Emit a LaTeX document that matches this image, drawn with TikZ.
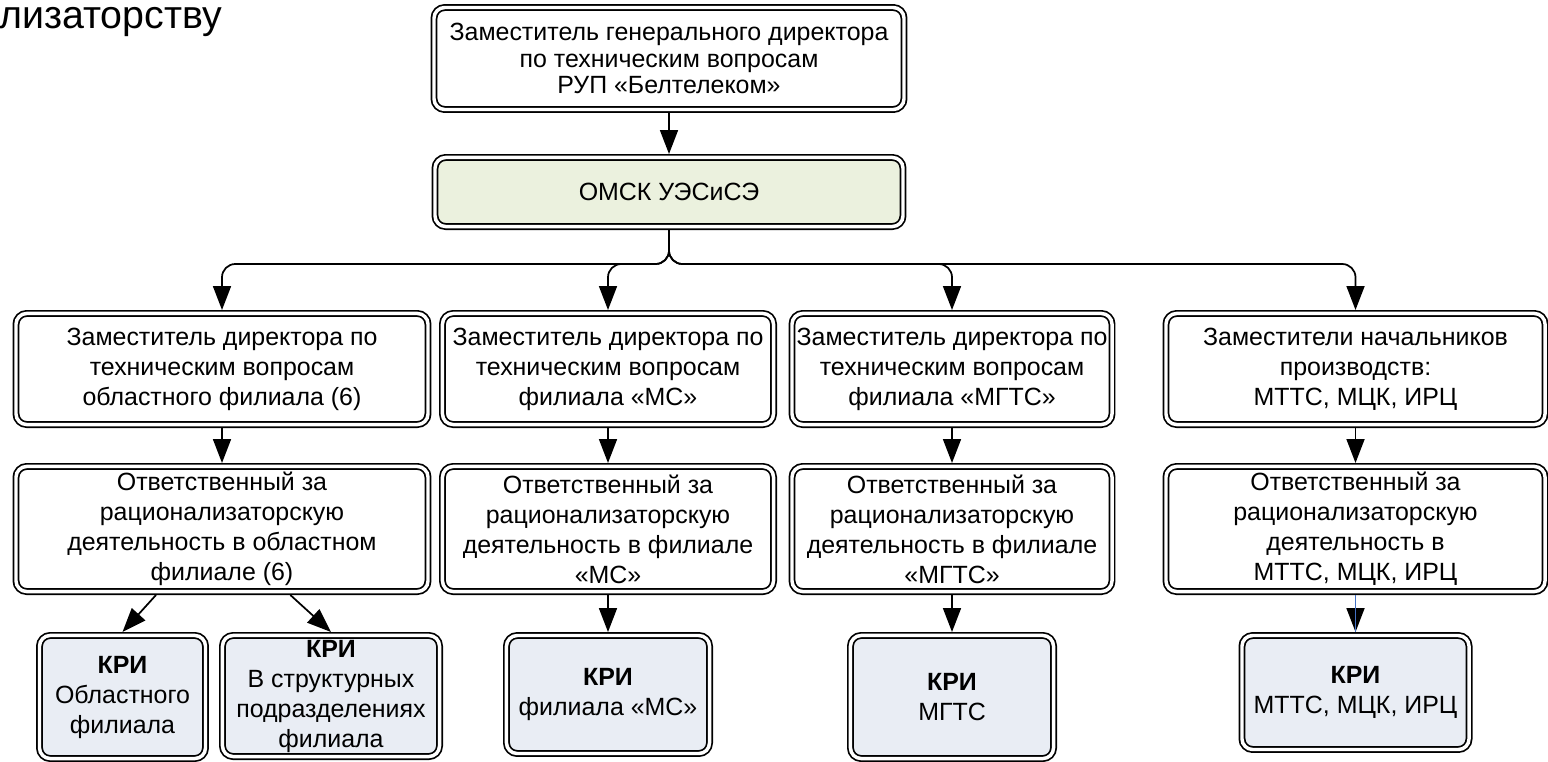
\documentclass[tikz,border=0pt]{standalone}
\usepackage{fontspec}
\setmainfont{Liberation Sans}
\usetikzlibrary{arrows.meta, positioning}

\definecolor{omskfill}{HTML}{EBF1DE}
\definecolor{krifill}{HTML}{E9EDF4}
\definecolor{lineblue}{HTML}{4472C4}

\begin{document}
\begin{tikzpicture}[x=0.75pt, y=-0.75pt,
    box/.style={rectangle, draw, double, double distance=2.6pt, line width=1.3pt,
      rounded corners=8pt, fill=white, align=center, inner sep=2pt, outer sep=2.6pt,
      font=\fontsize{18.7}{22.5}\selectfont},
    omskbox/.style={box, fill=omskfill},
    kribox/.style={box, fill=krifill},
    arr/.style={-{Triangle[length=18pt, width=13.5pt]}, line width=1.3pt, rounded corners=10pt}]
  \useasboundingbox (0,0) rectangle (1548,761);

  % Title (cut off at the left)
  \node (title) [anchor=base west, inner sep=0pt, font=\fontsize{29.5}{33}\selectfont] at (-1,28) {лизаторству};

  % Create the nodes
  \node (gendir) [box, minimum width=352.5pt, minimum height=76.5pt, font=\fontsize{18.7}{20}\selectfont] at (669,58.5) {Заместитель генерального директора\\по техническим вопросам\\РУП «Белтелеком»};
  \node (omsk) [omskbox, minimum width=351pt, minimum height=51.8pt] at (669,192) {ОМСК УЭСиСЭ};

  \node (zamA) [box, minimum width=309pt, minimum height=83.3pt] at (222,369) {Заместитель директора по\\техническим вопросам\\областного филиала (6)};
  \node (zamB) [box, minimum width=248.3pt, minimum height=83.3pt] at (608,369) {Заместитель директора по\\техническим вопросам\\филиала «МС»};
  \node (zamC) [box, minimum width=240pt, minimum height=83.3pt] at (952,369) {Заместитель директора по\\техническим вопросам\\филиала «МГТС»};
  \node (zamD) [box, minimum width=284.3pt, minimum height=83.3pt] at (1355.5,369) {Заместители начальников\\производств:\\МТТС, МЦК, ИРЦ};

  \node (respA) [box, minimum width=309pt, minimum height=93.8pt] at (222,529) {Ответственный за\\рационализаторскую\\деятельность в областном\\филиале (6)};
  \node (respB) [box, minimum width=248.3pt, minimum height=93.8pt] at (608,529) {Ответственный за\\рационализаторскую\\деятельность в филиале\\«МС»};
  \node (respC) [box, minimum width=240pt, minimum height=93.8pt] at (952,529) {Ответственный за\\рационализаторскую\\деятельность в филиале\\«МГТС»};
  \node (respD) [box, minimum width=284.3pt, minimum height=93.8pt] at (1355.5,529) {Ответственный за\\рационализаторскую\\деятельность в\\МТТС, МЦК, ИРЦ};

  \node (kriA) [kribox, minimum width=124.5pt, minimum height=92.3pt] at (122.5,697) {\textbf{КРИ}\\Областного\\филиала};
  \node (kriB) [kribox, minimum width=162.8pt, minimum height=90.8pt] at (331,696) {\textbf{КРИ}\\В структурных\\подразделениях\\филиала};
  \node (kriC) [kribox, minimum width=152.3pt, minimum height=88.5pt] at (608,694.5) {\textbf{КРИ}\\филиала «МС»};
  \node (kriD) [kribox, minimum width=152.3pt, minimum height=92.3pt] at (952,697) {\textbf{КРИ}\\МГТС};
  \node (kriE) [kribox, minimum width=170.3pt, minimum height=85.5pt] at (1355.5,692.5) {\textbf{КРИ}\\МТТС, МЦК, ИРЦ};

  % Connectors
  \draw [arr] (gendir) -- (omsk);

  \draw [arr] (omsk.south) -- ++(0,34) -| (zamA.north);
  \draw [arr] (omsk.south) -- ++(0,34) -| (zamB.north);
  \draw [arr] (omsk.south) -- ++(0,34) -| (zamC.north);
  \draw [arr] (omsk.south) -- ++(0,34) -| (zamD.north);

  \draw [arr] (zamA) -- (respA);
  \draw [arr] (zamB) -- (respB);
  \draw [arr] (zamC) -- (respC);
  \draw [arr] (zamD) -- (respD);

  \draw [arr] (respA.-135) -- (kriA.north);
  \draw [arr] (respA.-44) -- (kriB.north);
  \draw [arr] (respB) -- (kriC);
  \draw [arr] (respC) -- (kriD);
  \draw [arr, postaction={draw=lineblue, line width=0.8pt, -}] (respD) -- (kriE);
\end{tikzpicture}
\end{document}
